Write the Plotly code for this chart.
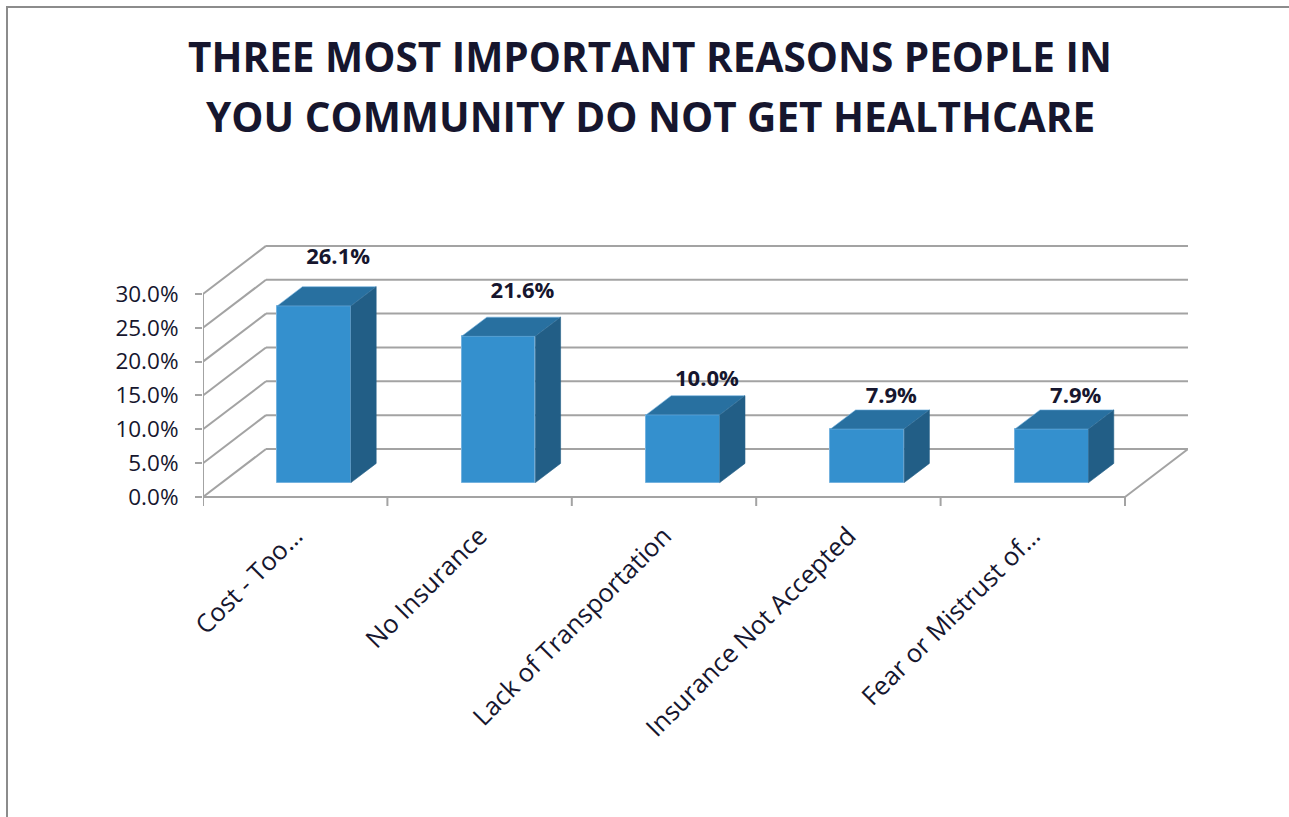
import plotly.graph_objects as go

# ---------------- data ----------------
categories = ["Cost - Too…", "No Insurance", "Lack of Transportation",
              "Insurance Not Accepted", "Fear or Mistrust of…"]
values = [0.261, 0.216, 0.100, 0.079, 0.079]
y_ticks = [0.0, 0.05, 0.10, 0.15, 0.20, 0.25, 0.30]
title_lines = ["THREE MOST IMPORTANT REASONS PEOPLE IN",
               "YOU COMMUNITY DO NOT GET HEALTHCARE"]

# ---------------- geometry / style ----------------
W, H = 1289, 817
n = len(categories)
CAT_PX = 184.4            # pixels per category on the front plane
PX_PER_UNIT = 677.0       # pixels per 1.0 (100%) on the value axis
DEPTH_PX = (63.0, 48.0)   # oblique depth offset (right, up) in pixels
PL = 203
PR = PL + CAT_PX * n + DEPTH_PX[0]
ZERO_PX = 497
PT, PB = 200, 515

DX = DEPTH_PX[0] / CAT_PX
DY = DEPTH_PX[1] / PX_PER_UNIT
D0, D1 = 0.3, 0.7          # bar front/back depth fractions
HALF = 0.2                 # bar half width (category units)
LABEL_SCALE = 1.128        # labels sit in a slightly exaggerated (perspective) scale
LABEL_LIFT = 0.0586
LABEL_SHIFT = 0.062

x_range = [-0.5, n - 0.5 + DX]
y_range = [(ZERO_PX - PB) / PX_PER_UNIT, (ZERO_PX - PT) / PX_PER_UNIT]

FRONT = "#3490CE"
TOP = "#2870A0"
SIDE = "#225E86"
EDGE = "#74B2DF"
GRID = "#A3A3A3"
TEXT = "#16162E"
FONT = "Open Sans"

fig = go.Figure()

# front faces (bars)
fig.add_trace(go.Bar(
    x=[i + D0 * DX for i in range(n)], y=values, base=D0 * DY,
    width=2 * HALF, marker=dict(color=FRONT, line=dict(color=EDGE, width=1)),
    showlegend=False, hoverinfo="skip"))

# top and side faces
for i, v in enumerate(values):
    xl, xr = i - HALF, i + HALF
    top_x = [xl + D0 * DX, xr + D0 * DX, xr + D1 * DX, xl + D1 * DX, xl + D0 * DX]
    top_y = [v + D0 * DY, v + D0 * DY, v + D1 * DY, v + D1 * DY, v + D0 * DY]
    fig.add_trace(go.Scatter(x=top_x, y=top_y, mode="lines", fill="toself",
                             fillcolor=TOP, line=dict(color=EDGE, width=0.6),
                             showlegend=False, hoverinfo="skip"))
    side_x = [xr + D0 * DX, xr + D1 * DX, xr + D1 * DX, xr + D0 * DX, xr + D0 * DX]
    side_y = [D0 * DY, D1 * DY, v + D1 * DY, v + D0 * DY, D0 * DY]
    fig.add_trace(go.Scatter(x=side_x, y=side_y, mode="lines", fill="toself",
                             fillcolor=SIDE, line=dict(color=SIDE, width=0.6),
                             showlegend=False, hoverinfo="skip"))

# data labels
fig.add_trace(go.Scatter(
    x=[i + 0.5 * DX + LABEL_SHIFT for i in range(n)],
    y=[v * LABEL_SCALE + LABEL_LIFT for v in values],
    text=[f"{v * 100:.1f}%" for v in values],
    mode="text", textposition="middle center",
    textfont=dict(family=FONT, size=22, color=TEXT, weight="bold"),
    showlegend=False, hoverinfo="skip", cliponaxis=False))

# ---------------- 3D frame (gridlines, walls, floor) ----------------
shapes = []
line_style = dict(color=GRID, width=2)
for g in y_ticks:
    shapes.append(dict(type="line", xref="x", yref="y", layer="below",
                       x0=-0.5, y0=g, x1=-0.5 + DX, y1=g + DY, line=line_style))
    shapes.append(dict(type="line", xref="x", yref="y", layer="below",
                       x0=-0.5 + DX, y0=g + DY, x1=n - 0.5 + DX, y1=g + DY, line=line_style))
shapes.append(dict(type="line", xref="x", yref="y", layer="below",
                   x0=-0.5, y0=0, x1=n - 0.5, y1=0, line=line_style))
shapes.append(dict(type="line", xref="x", yref="y", layer="below",
                   x0=n - 0.5, y0=0, x1=n - 0.5 + DX, y1=DY, line=line_style))
shapes.append(dict(type="line", xref="x", yref="y", layer="below",
                   x0=-0.5, y0=0, x1=-0.5, y1=max(y_ticks), line=line_style))
for k in range(n + 1):
    shapes.append(dict(type="line", xref="x", yref="y", layer="below",
                       x0=-0.5 + k, y0=0, x1=-0.5 + k, y1=-9 / PX_PER_UNIT, line=line_style))

# outer border of the chart area
def px_to_paper_x(p):
    return (p - PL) / (PR - PL)

def px_to_paper_y(p):
    return (PB - p) / (PB - PT)

shapes.append(dict(type="rect", xref="paper", yref="paper", layer="above",
                   x0=px_to_paper_x(7), y0=px_to_paper_y(830),
                   x1=px_to_paper_x(1300), y1=px_to_paper_y(7),
                   line=dict(color="#8C8C8C", width=2), fillcolor="rgba(0,0,0,0)"))

annotations = []
for j, line in enumerate(title_lines):
    annotations.append(dict(
        text=line, xref="paper", yref="paper",
        x=px_to_paper_x(650), y=px_to_paper_y(56 + 60 * j),
        xanchor="center", yanchor="middle", showarrow=False,
        font=dict(family=FONT, size=40.5, color=TEXT, weight="bold")))

fig.update_layout(
    width=W, height=H, autosize=False,
    margin=dict(l=PL, r=W - PR, t=PT, b=H - PB, pad=0),
    paper_bgcolor="white", plot_bgcolor="white",
    shapes=shapes, annotations=annotations,
    bargap=0, showlegend=False,
    xaxis=dict(range=x_range, tickmode="array", tickvals=list(range(n)),
               ticktext=categories, tickangle=-45, showgrid=False,
               zeroline=False, showline=False, ticks="",
               tickfont=dict(family=FONT, size=25.5, color=TEXT)),
    yaxis=dict(range=y_range, tickmode="array", tickvals=y_ticks,
               ticktext=[f"{t * 100:.1f}%" for t in y_ticks],
               showgrid=False, zeroline=False, showline=False,
               ticks="outside", ticklen=7, tickwidth=2, tickcolor=GRID,
               ticklabelstandoff=12,
               tickfont=dict(family=FONT, size=22.5, color=TEXT)),
)

fig.write_html("out.html")
